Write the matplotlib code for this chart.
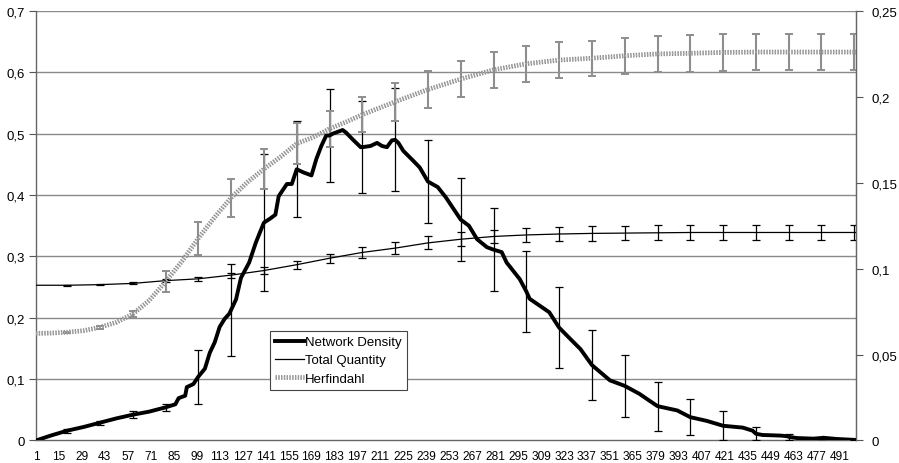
import matplotlib
matplotlib.use("Agg")
import matplotlib.pyplot as plt
import matplotlib.patheffects as pe

plt.rcParams["font.family"] = ["Liberation Sans", "DejaVu Sans"]
plt.rcParams["font.size"] = 9.5

# --- data (x = period index) ---
density_x = [1, 10, 20, 30, 40, 50, 60, 70, 80, 86, 88, 92, 93, 97, 100, 104, 107,
             110, 113, 116, 119, 120, 123, 126, 131, 135, 138, 140, 144, 147, 149,
             152, 154, 157, 160, 164, 169, 172, 175, 178, 180, 182, 188, 190, 194,
             199, 200, 205, 209, 212, 215, 218, 220, 222, 225, 231, 235, 240, 246,
             251, 260, 265, 270, 276, 280, 285, 288, 296, 300, 302, 308, 314, 320,
             327, 333, 340, 351, 360, 369, 375, 380, 392, 400, 410, 420, 432, 438,
             440, 444, 455, 459, 460, 465, 475, 480, 481, 489, 500, 501]
density_y = [0.0, 0.008, 0.016, 0.022, 0.029, 0.036, 0.042, 0.047, 0.054, 0.059,
             0.069, 0.073, 0.087, 0.092, 0.104, 0.117, 0.143, 0.160, 0.185, 0.198,
             0.207, 0.213, 0.230, 0.265, 0.290, 0.322, 0.342, 0.355, 0.362, 0.368,
             0.398, 0.410, 0.418, 0.418, 0.442, 0.437, 0.432, 0.459, 0.480, 0.497,
             0.497, 0.500, 0.506, 0.502, 0.491, 0.478, 0.478, 0.480, 0.485, 0.480,
             0.478, 0.489, 0.490, 0.485, 0.472, 0.456, 0.445, 0.422, 0.413, 0.396,
             0.360, 0.350, 0.328, 0.315, 0.311, 0.307, 0.290, 0.263, 0.243, 0.231,
             0.220, 0.209, 0.184, 0.165, 0.149, 0.123, 0.098, 0.089, 0.076, 0.065,
             0.056, 0.049, 0.038, 0.032, 0.024, 0.021, 0.016, 0.011, 0.009, 0.008,
             0.007, 0.006, 0.004, 0.003, 0.004, 0.0045, 0.0025, 0.001, 0.001]

quantity_x = [1, 20, 40, 60, 80, 100, 120, 140, 160, 180, 200, 220, 240, 260, 280,
              300, 320, 340, 360, 380, 400, 420, 440, 460, 480, 500, 501]
quantity_y = [0.253, 0.253, 0.254, 0.256, 0.2605, 0.2635, 0.2695, 0.277, 0.2865,
              0.297, 0.3065, 0.3135, 0.322, 0.328, 0.3325, 0.335, 0.3365, 0.3375,
              0.338, 0.3385, 0.339, 0.339, 0.339, 0.339, 0.339, 0.339, 0.339]

herf_x = [1, 10, 20, 30, 40, 50, 60, 70, 80, 90, 100, 110, 120, 130, 140, 150, 160,
          170, 180, 190, 200, 220, 240, 260, 280, 300, 320, 340, 360, 380, 400, 420,
          440, 460, 480, 500, 501]
herf_y = [0.1745, 0.175, 0.1765, 0.179, 0.1845, 0.1926, 0.206, 0.228, 0.2588, 0.292,
          0.3295, 0.364, 0.3957, 0.421, 0.4425, 0.462, 0.484, 0.494, 0.508, 0.519,
          0.531, 0.552, 0.572, 0.589, 0.604, 0.614, 0.620, 0.623, 0.627, 0.630,
          0.631, 0.6325, 0.633, 0.633, 0.633, 0.633, 0.633]

# error bars every 20 periods
err_x = [20, 40, 60, 80, 100, 120, 140, 160, 180, 200, 220, 240, 260, 280, 300,
         320, 340, 360, 380, 400, 420, 440, 460, 480, 500]
density_err = [0.003, 0.003, 0.006, 0.006, 0.044, 0.075, 0.112, 0.078, 0.076, 0.075,
               0.084, 0.068, 0.068, 0.068, 0.066, 0.066, 0.057, 0.051, 0.040, 0.029,
               0.024, 0.011, 0.005, 0.002, 0.001]
quantity_err = [0.001, 0.001, 0.0015, 0.002, 0.003, 0.004, 0.0062, 0.0065, 0.0075,
                0.0088, 0.0095, 0.0106, 0.011, 0.011, 0.011, 0.0117, 0.012, 0.012,
                0.012, 0.012, 0.012, 0.012, 0.012, 0.012, 0.012]
herf_err = [0.001, 0.002, 0.005, 0.017, 0.027, 0.031, 0.033, 0.033, 0.029, 0.029,
            0.031, 0.030, 0.030, 0.029, 0.029, 0.029, 0.0285, 0.029, 0.030, 0.030,
            0.030, 0.030, 0.030, 0.030, 0.030]

x_tick_labels = list(range(1, 492, 14))
left_ticks = [0, 0.1, 0.2, 0.3, 0.4, 0.5, 0.6, 0.7]
right_ticks = [0, 0.05, 0.1, 0.15, 0.2, 0.25]


def comma(v):
    s = ("%g" % v)
    return s.replace(".", ",")


fig = plt.figure(figsize=(8.99, 4.64), dpi=100)
ax = fig.add_axes([0.040, 0.0485, 0.9121, 0.9257])

# centres of the error bars are the series values at those periods
d_lookup = dict(zip(density_x, density_y))
q_lookup = dict(zip(quantity_x, quantity_y))
h_lookup = dict(zip(herf_x, herf_y))

ax.errorbar(err_x, [d_lookup[x] for x in err_x], yerr=density_err, fmt="none",
            ecolor="black", elinewidth=0.9, capsize=3, capthick=0.9, zorder=3)
ax.errorbar(err_x, [q_lookup[x] for x in err_x], yerr=quantity_err, fmt="none",
            ecolor="black", elinewidth=0.9, capsize=3, capthick=0.9, zorder=3)
ax.errorbar(err_x, [h_lookup[x] for x in err_x], yerr=herf_err, fmt="none",
            ecolor="#8e8e8e", elinewidth=1.5, capsize=3, capthick=1.4, zorder=4)

ax.plot(density_x, density_y, color="black", lw=2.8, label="Network Density",
        solid_joinstyle="round", zorder=5)
ax.plot(quantity_x, quantity_y, color="black", lw=0.9, label="Total Quantity",
        zorder=5)
ax.plot(herf_x, herf_y, color="#b0b0b0", lw=1.0, ls=(0, (1, 1)), label="Herfindahl",
        zorder=6,
        path_effects=[pe.Stroke(linewidth=3.4, foreground="#8c8c8c"), pe.Normal()])

ax.set_xlim(1, 501)
ax.set_ylim(0, 0.7)
ax.set_yticks(left_ticks)
ax.set_yticklabels([comma(v) for v in left_ticks])
ax.set_xticks(x_tick_labels)
ax.set_xticklabels([str(v) for v in x_tick_labels], fontsize=8.6)
ax.tick_params(axis="x", length=0, pad=7)
ax.tick_params(axis="y", length=5, width=0.8, color="#555555", pad=3)

for v in left_ticks[1:]:
    ax.axhline(v, color="#8a8a8a", lw=1.0, zorder=1)

for side in ["top"]:
    ax.spines[side].set_visible(False)
for side in ["left", "bottom", "right"]:
    ax.spines[side].set_color("#666666")
    ax.spines[side].set_linewidth(1.0)

ax2 = ax.twinx()
ax2.set_ylim(0, 0.25)
ax2.set_yticks(right_ticks)
ax2.set_yticklabels([comma(v) for v in right_ticks])
ax2.tick_params(axis="y", length=5, width=0.8, color="#555555", pad=6)
ax2.spines["top"].set_visible(False)
ax2.spines["right"].set_color("#666666")
ax2.spines["left"].set_visible(False)
ax2.spines["bottom"].set_visible(False)

leg = ax.legend(loc="upper left", bbox_to_anchor=(0.277, 0.271), frameon=True,
                fancybox=False, framealpha=1, edgecolor="#444444",
                handlelength=2.2, handletextpad=0.05, labelspacing=0.45,
                borderpad=0.4, fontsize=9.5)
leg.get_frame().set_linewidth(0.8)
leg.set_zorder(10)

fig.savefig("out.png", dpi=100)
